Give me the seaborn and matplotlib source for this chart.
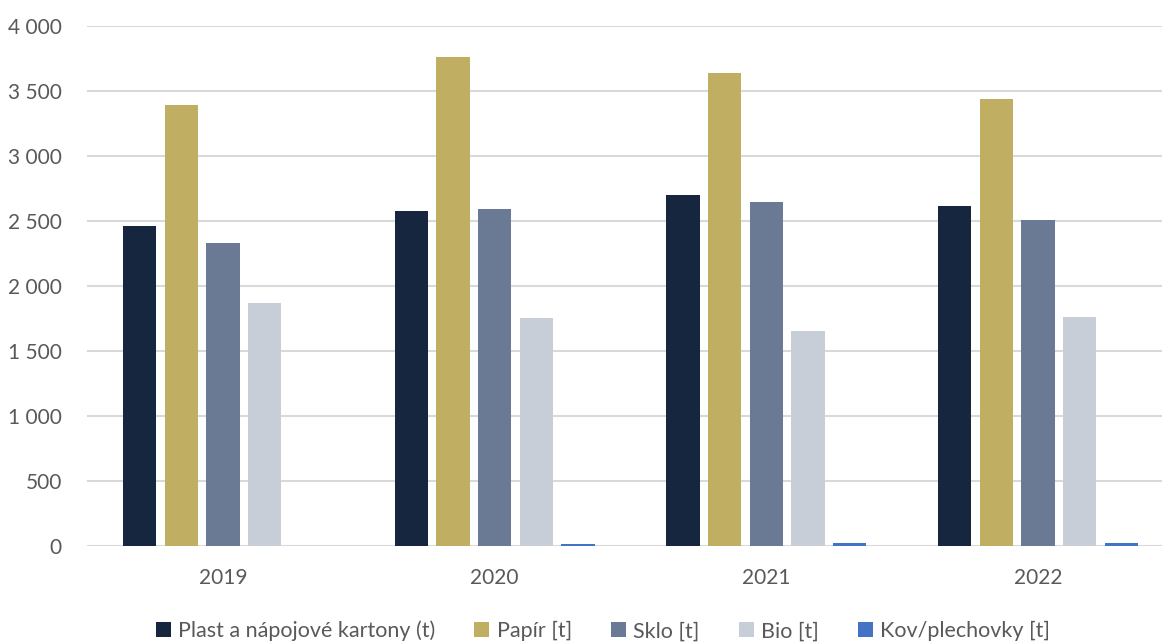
import matplotlib
matplotlib.use("Agg")
import matplotlib.pyplot as plt
from matplotlib.patches import Patch
from matplotlib.ticker import FuncFormatter, MultipleLocator
import pandas as pd
import seaborn as sns

years = ["2019", "2020", "2021", "2022"]
series = ["Plast a nápojové kartony (t)", "Papír [t]", "Sklo [t]", "Bio [t]", "Kov/plechovky [t]"]
plast = [2465, 2577, 2700, 2615]
papir = [3392, 3762, 3638, 3438]
sklo = [2331, 2592, 2646, 2510]
bio = [1869, 1754, 1654, 1762]
kov = [0, 15, 22, 22]
colors = ["#17263F", "#C0AF62", "#6A7A94", "#C8CED8", "#4472C4"]

values = [plast, papir, sklo, bio, kov]
df = pd.DataFrame(
    [(y, s, v[i]) for s, v in zip(series, values) for i, y in enumerate(years)],
    columns=["rok", "druh", "mnozstvi"],
)

sns.set_theme(style="white")
plt.rcParams["font.family"] = ["Lato", "DejaVu Sans"]

fig = plt.figure(figsize=(11.62, 6.42), dpi=100)
W, H = 1162, 642
left_px, right_px, top_px, bottom_px = 87, 1174, 26, 546
ax = fig.add_axes([left_px / W, (H - bottom_px) / H,
                   (right_px - left_px) / W, (bottom_px - top_px) / H])

sns.barplot(data=df, x="rok", y="mnozstvi", hue="druh", hue_order=series,
            palette=colors, width=0.767, gap=0.2, ax=ax, legend=False,
            saturation=1, edgecolor="none")

ax.set_xlim(-0.5, 3.5)
ax.set_ylim(0, 4000)
ax.yaxis.set_major_locator(MultipleLocator(500))
ax.yaxis.set_major_formatter(FuncFormatter(lambda v, p: f"{int(v):,}".replace(",", " ")))
ax.grid(axis="y", color="#D9D9D9", linewidth=1.5)
ax.set_axisbelow(True)
for sp in ax.spines.values():
    sp.set_visible(False)
ax.set_xlabel("")
ax.set_ylabel("")
ax.tick_params(axis="both", length=0, labelsize=15, labelcolor="#595959")
ax.tick_params(axis="x", pad=16)
ax.tick_params(axis="y", pad=18)

handles = [Patch(facecolor=c, edgecolor="none") for c in colors]
fig.legend(handles, series, loc="center", bbox_to_anchor=(603 / W, 11 / H),
           ncol=5, frameon=False, fontsize=15.5, labelcolor="#595959",
           handlelength=0.7, handleheight=0.7, handletextpad=0.35,
           columnspacing=1.8)

fig.savefig("out.png", dpi=100)
